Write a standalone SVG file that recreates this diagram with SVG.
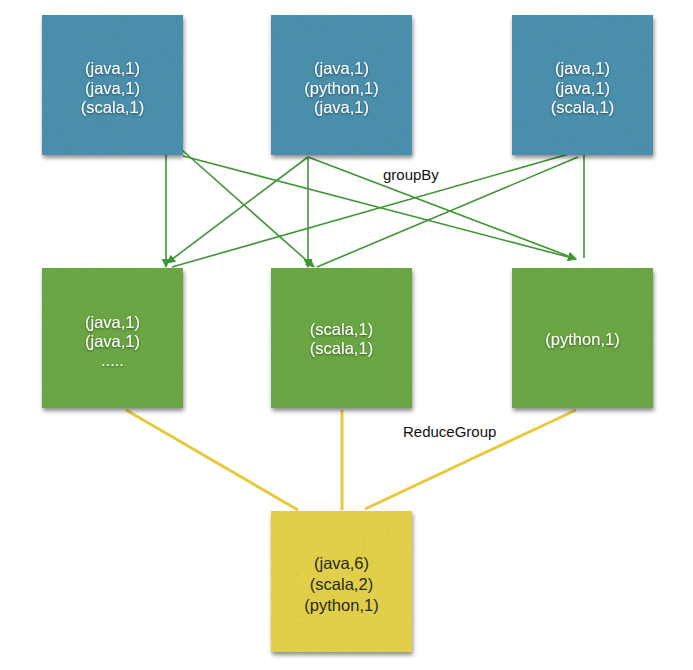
<svg xmlns="http://www.w3.org/2000/svg" width="693" height="670" viewBox="0 0 693 670">
<defs>
<filter id="shadow" x="-10%" y="-10%" width="125%" height="125%">
<feTurbulence type="fractalNoise" baseFrequency="0.9" numOctaves="2" seed="4" result="noise"/>
<feColorMatrix in="noise" type="matrix" values="0 0 0 0 0  0 0 0 0 0  0 0 0 0 0  0 0 0 0.9 -0.35" result="dark"/>
<feComposite in="dark" in2="SourceGraphic" operator="in" result="darkin"/>
<feComponentTransfer in="darkin" result="grain"><feFuncA type="linear" slope="0.35"/></feComponentTransfer>
<feGaussianBlur in="SourceAlpha" stdDeviation="2" result="blur"/>
<feOffset in="blur" dx="1" dy="3" result="off"/>
<feComponentTransfer in="off" result="sh"><feFuncA type="linear" slope="0.45"/></feComponentTransfer>
<feMerge><feMergeNode in="sh"/><feMergeNode in="SourceGraphic"/><feMergeNode in="grain"/></feMerge>
</filter>
<filter id="tshadow" x="-10%" y="-30%" width="120%" height="160%">
<feGaussianBlur in="SourceAlpha" stdDeviation="0.8"/>
<feOffset dx="0" dy="1"/>
<feComponentTransfer><feFuncA type="linear" slope="0.5"/></feComponentTransfer>
<feMerge><feMergeNode/><feMergeNode in="SourceGraphic"/></feMerge>
</filter>
<marker id="arr" viewBox="0 0 10 10" refX="9" refY="5" markerWidth="9" markerHeight="9" markerUnits="userSpaceOnUse" orient="auto">
<path d="M0,0 L10,5 L0,10 z" fill="#3f9634"/>
</marker>
</defs>
<style>
.blue{fill:#4c91ae;filter:url(#shadow)}
.green{fill:#6ca845;filter:url(#shadow)}
.yellow{fill:#e4d24c;filter:url(#shadow)}
.t{font-family:"Liberation Sans",Arial,sans-serif;font-size:16.5px;text-anchor:middle;fill:#ffffff;filter:url(#tshadow)}
.td{font-family:"Liberation Sans",Arial,sans-serif;font-size:16.5px;text-anchor:middle;fill:#2a2a1a}
.lbl{font-family:"Liberation Sans",Arial,sans-serif;font-size:15px;fill:#111}
.g{stroke:#3f9634;stroke-width:1.6;fill:none}
.y{stroke:#e8c93e;stroke-width:3;fill:none}
</style>
<g id="connectors">
<line class="g" x1="166" y1="155" x2="166" y2="267" marker-end="url(#arr)"/>
<line class="g" x1="182" y1="150" x2="314" y2="267" marker-end="url(#arr)"/>
<line class="g" x1="183" y1="156" x2="576" y2="259" marker-end="url(#arr)"/>
<line class="g" x1="308" y1="157" x2="167" y2="263" marker-end="url(#arr)"/>
<line class="g" x1="308" y1="157" x2="308" y2="267" marker-end="url(#arr)"/>
<line class="g" x1="308" y1="157" x2="576" y2="259" marker-end="url(#arr)"/>
<line class="g" x1="583" y1="150" x2="172" y2="267"/>
<line class="g" x1="578" y1="157" x2="317" y2="267"/>
<line class="g" x1="584" y1="155" x2="584" y2="258"/>
<line class="y" x1="126" y1="410" x2="298" y2="510"/>
<line class="y" x1="342" y1="410" x2="342" y2="510"/>
<line class="y" x1="576" y1="410" x2="365" y2="509"/>
<text class="lbl" x="383" y="180">groupBy</text>
<text class="lbl" x="403" y="437">ReduceGroup</text>
</g>
<g id="src1">
<rect class="blue" x="42" y="15" width="141" height="140"/>
<text class="t" x="112.5" y="74">(java,1)</text>
<text class="t" x="112.5" y="93.5">(java,1)</text>
<text class="t" x="112.5" y="113">(scala,1)</text>
</g>
<g id="src2">
<rect class="blue" x="271" y="15" width="141" height="140"/>
<text class="t" x="341.5" y="74">(java,1)</text>
<text class="t" x="341.5" y="93.5">(python,1)</text>
<text class="t" x="341.5" y="113">(java,1)</text>
</g>
<g id="src3">
<rect class="blue" x="512" y="15" width="141" height="140"/>
<text class="t" x="582.5" y="74">(java,1)</text>
<text class="t" x="582.5" y="93.5">(java,1)</text>
<text class="t" x="582.5" y="113">(scala,1)</text>
</g>
<g id="grp1">
<rect class="green" x="42" y="268" width="141" height="140"/>
<text class="t" x="112.5" y="328">(java,1)</text>
<text class="t" x="112.5" y="347">(java,1)</text>
<text class="t" x="112.5" y="366">.....</text>
</g>
<g id="grp2">
<rect class="green" x="271" y="268" width="141" height="140"/>
<text class="t" x="341.5" y="335">(scala,1)</text>
<text class="t" x="341.5" y="354">(scala,1)</text>
</g>
<g id="grp3">
<rect class="green" x="512" y="268" width="141" height="140"/>
<text class="t" x="582.5" y="345">(python,1)</text>
</g>
<g id="result">
<rect class="yellow" x="271" y="511" width="141" height="141"/>
<text class="td" x="341.5" y="569">(java,6)</text>
<text class="td" x="341.5" y="590">(scala,2)</text>
<text class="td" x="341.5" y="611">(python,1)</text>
</g>
</svg>
